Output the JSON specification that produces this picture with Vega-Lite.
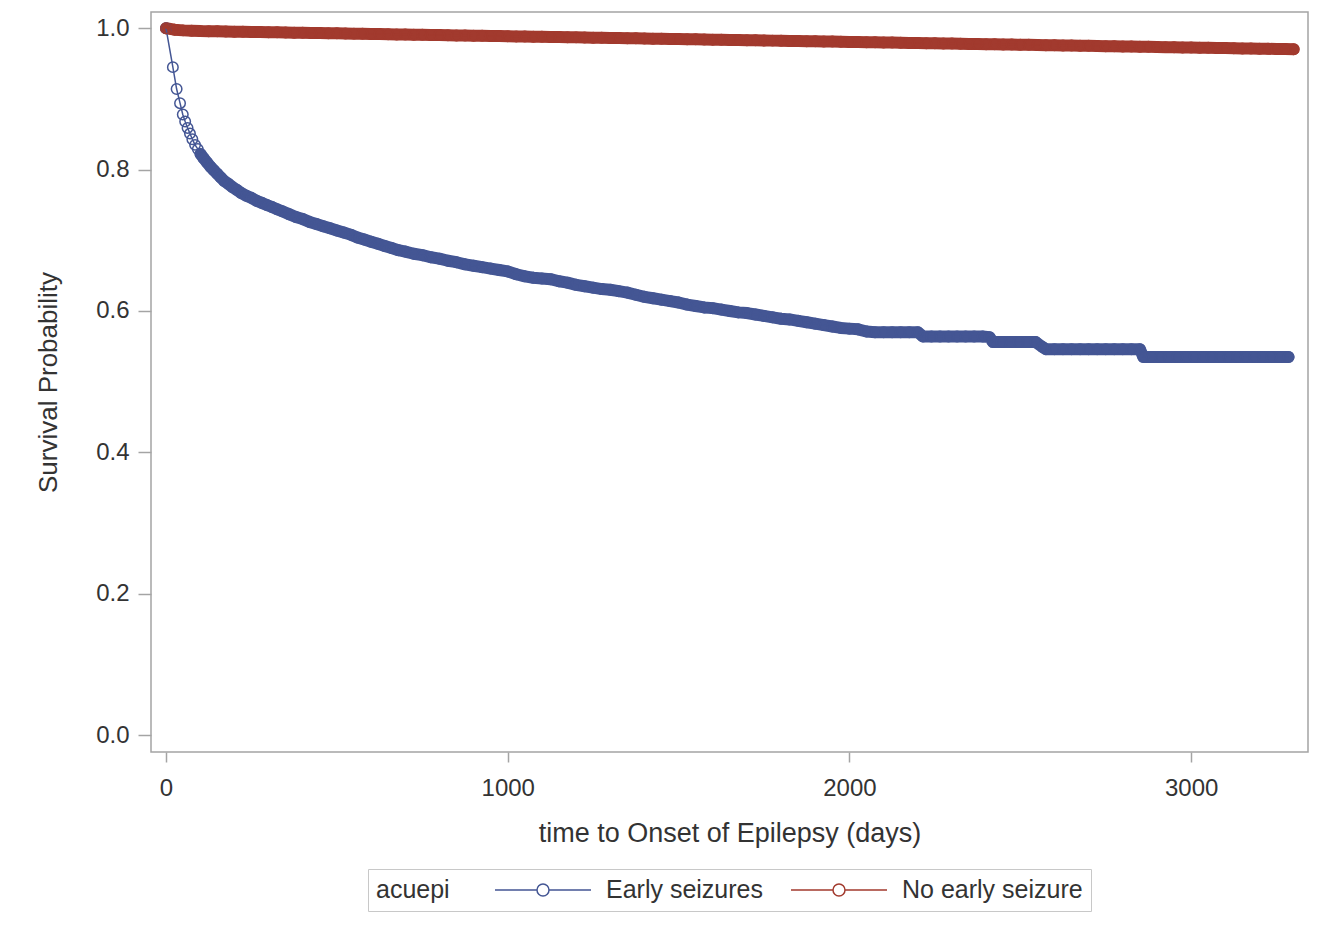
{
"$schema": "https://vega.github.io/schema/vega-lite/v6.json",
"width": 1157,
"height": 740,
"autosize": "none",
"padding": {"left": 151, "top": 12, "right": 21, "bottom": 180},
"background": "white",
"config": {
  "font": "Liberation Sans",
  "view": {"stroke": "#a4a4a4", "strokeWidth": 1.5},
  "axis": {"grid": false, "domain": false, "tickColor": "#a4a4a4", "tickWidth": 1.5, "labelFontSize": 24, "labelColor": "#333333", "titleFontSize": 26, "titleFontWeight": "normal", "titleColor": "#333333"}
},
"data": {"values": [
{"time":0,"surv":1.000,"acuepi":"Early seizures"},
{"time":20,"surv":0.945,"acuepi":"Early seizures"},
{"time":31,"surv":0.914,"acuepi":"Early seizures"},
{"time":41,"surv":0.894,"acuepi":"Early seizures"},
{"time":49,"surv":0.878,"acuepi":"Early seizures"},
{"time":56,"surv":0.868,"acuepi":"Early seizures"},
{"time":63,"surv":0.859,"acuepi":"Early seizures"},
{"time":70,"surv":0.851,"acuepi":"Early seizures"},
{"time":77,"surv":0.843,"acuepi":"Early seizures"},
{"time":85,"surv":0.835,"acuepi":"Early seizures"},
{"time":93,"surv":0.829,"acuepi":"Early seizures"},
{"time":101,"surv":0.822,"acuepi":"Early seizures"},
{"time":110,"surv":0.816,"acuepi":"Early seizures"},
{"time":120,"surv":0.810,"acuepi":"Early seizures"},
{"time":130,"surv":0.804,"acuepi":"Early seizures"},
{"time":140,"surv":0.799,"acuepi":"Early seizures"},
{"time":150,"surv":0.794,"acuepi":"Early seizures"},
{"time":160,"surv":0.789,"acuepi":"Early seizures"},
{"time":170,"surv":0.784,"acuepi":"Early seizures"},
{"time":182,"surv":0.780,"acuepi":"Early seizures"},
{"time":195,"surv":0.775,"acuepi":"Early seizures"},
{"time":208,"surv":0.771,"acuepi":"Early seizures"},
{"time":220,"surv":0.767,"acuepi":"Early seizures"},
{"time":235,"surv":0.763,"acuepi":"Early seizures"},
{"time":250,"surv":0.760,"acuepi":"Early seizures"},
{"time":265,"surv":0.756,"acuepi":"Early seizures"},
{"time":280,"surv":0.753,"acuepi":"Early seizures"},
{"time":295,"surv":0.750,"acuepi":"Early seizures"},
{"time":310,"surv":0.747,"acuepi":"Early seizures"},
{"time":325,"surv":0.744,"acuepi":"Early seizures"},
{"time":340,"surv":0.741,"acuepi":"Early seizures"},
{"time":360,"surv":0.737,"acuepi":"Early seizures"},
{"time":380,"surv":0.733,"acuepi":"Early seizures"},
{"time":400,"surv":0.730,"acuepi":"Early seizures"},
{"time":420,"surv":0.726,"acuepi":"Early seizures"},
{"time":440,"surv":0.723,"acuepi":"Early seizures"},
{"time":460,"surv":0.720,"acuepi":"Early seizures"},
{"time":480,"surv":0.717,"acuepi":"Early seizures"},
{"time":500,"surv":0.714,"acuepi":"Early seizures"},
{"time":520,"surv":0.711,"acuepi":"Early seizures"},
{"time":540,"surv":0.708,"acuepi":"Early seizures"},
{"time":560,"surv":0.704,"acuepi":"Early seizures"},
{"time":580,"surv":0.701,"acuepi":"Early seizures"},
{"time":600,"surv":0.698,"acuepi":"Early seizures"},
{"time":620,"surv":0.695,"acuepi":"Early seizures"},
{"time":640,"surv":0.692,"acuepi":"Early seizures"},
{"time":660,"surv":0.689,"acuepi":"Early seizures"},
{"time":680,"surv":0.686,"acuepi":"Early seizures"},
{"time":700,"surv":0.684,"acuepi":"Early seizures"},
{"time":725,"surv":0.681,"acuepi":"Early seizures"},
{"time":750,"surv":0.679,"acuepi":"Early seizures"},
{"time":775,"surv":0.676,"acuepi":"Early seizures"},
{"time":800,"surv":0.674,"acuepi":"Early seizures"},
{"time":825,"surv":0.671,"acuepi":"Early seizures"},
{"time":850,"surv":0.669,"acuepi":"Early seizures"},
{"time":875,"surv":0.666,"acuepi":"Early seizures"},
{"time":900,"surv":0.664,"acuepi":"Early seizures"},
{"time":925,"surv":0.662,"acuepi":"Early seizures"},
{"time":950,"surv":0.660,"acuepi":"Early seizures"},
{"time":975,"surv":0.658,"acuepi":"Early seizures"},
{"time":1000,"surv":0.656,"acuepi":"Early seizures"},
{"time":1025,"surv":0.652,"acuepi":"Early seizures"},
{"time":1050,"surv":0.649,"acuepi":"Early seizures"},
{"time":1075,"surv":0.647,"acuepi":"Early seizures"},
{"time":1100,"surv":0.646,"acuepi":"Early seizures"},
{"time":1125,"surv":0.645,"acuepi":"Early seizures"},
{"time":1150,"surv":0.642,"acuepi":"Early seizures"},
{"time":1175,"surv":0.640,"acuepi":"Early seizures"},
{"time":1200,"surv":0.637,"acuepi":"Early seizures"},
{"time":1225,"surv":0.635,"acuepi":"Early seizures"},
{"time":1250,"surv":0.633,"acuepi":"Early seizures"},
{"time":1275,"surv":0.631,"acuepi":"Early seizures"},
{"time":1300,"surv":0.630,"acuepi":"Early seizures"},
{"time":1325,"surv":0.628,"acuepi":"Early seizures"},
{"time":1350,"surv":0.626,"acuepi":"Early seizures"},
{"time":1375,"surv":0.623,"acuepi":"Early seizures"},
{"time":1400,"surv":0.620,"acuepi":"Early seizures"},
{"time":1425,"surv":0.618,"acuepi":"Early seizures"},
{"time":1450,"surv":0.616,"acuepi":"Early seizures"},
{"time":1475,"surv":0.614,"acuepi":"Early seizures"},
{"time":1500,"surv":0.612,"acuepi":"Early seizures"},
{"time":1525,"surv":0.609,"acuepi":"Early seizures"},
{"time":1550,"surv":0.607,"acuepi":"Early seizures"},
{"time":1575,"surv":0.605,"acuepi":"Early seizures"},
{"time":1600,"surv":0.604,"acuepi":"Early seizures"},
{"time":1625,"surv":0.602,"acuepi":"Early seizures"},
{"time":1650,"surv":0.600,"acuepi":"Early seizures"},
{"time":1675,"surv":0.598,"acuepi":"Early seizures"},
{"time":1700,"surv":0.597,"acuepi":"Early seizures"},
{"time":1725,"surv":0.595,"acuepi":"Early seizures"},
{"time":1750,"surv":0.593,"acuepi":"Early seizures"},
{"time":1775,"surv":0.591,"acuepi":"Early seizures"},
{"time":1800,"surv":0.589,"acuepi":"Early seizures"},
{"time":1825,"surv":0.588,"acuepi":"Early seizures"},
{"time":1850,"surv":0.586,"acuepi":"Early seizures"},
{"time":1875,"surv":0.584,"acuepi":"Early seizures"},
{"time":1900,"surv":0.582,"acuepi":"Early seizures"},
{"time":1925,"surv":0.580,"acuepi":"Early seizures"},
{"time":1950,"surv":0.578,"acuepi":"Early seizures"},
{"time":1975,"surv":0.576,"acuepi":"Early seizures"},
{"time":2000,"surv":0.575,"acuepi":"Early seizures"},
{"time":2025,"surv":0.574,"acuepi":"Early seizures"},
{"time":2050,"surv":0.571,"acuepi":"Early seizures"},
{"time":2075,"surv":0.570,"acuepi":"Early seizures"},
{"time":2100,"surv":0.570,"acuepi":"Early seizures"},
{"time":2125,"surv":0.570,"acuepi":"Early seizures"},
{"time":2150,"surv":0.570,"acuepi":"Early seizures"},
{"time":2175,"surv":0.570,"acuepi":"Early seizures"},
{"time":2200,"surv":0.570,"acuepi":"Early seizures"},
{"time":2215,"surv":0.564,"acuepi":"Early seizures"},
{"time":2240,"surv":0.564,"acuepi":"Early seizures"},
{"time":2265,"surv":0.564,"acuepi":"Early seizures"},
{"time":2290,"surv":0.564,"acuepi":"Early seizures"},
{"time":2315,"surv":0.564,"acuepi":"Early seizures"},
{"time":2340,"surv":0.564,"acuepi":"Early seizures"},
{"time":2365,"surv":0.564,"acuepi":"Early seizures"},
{"time":2390,"surv":0.564,"acuepi":"Early seizures"},
{"time":2410,"surv":0.563,"acuepi":"Early seizures"},
{"time":2420,"surv":0.556,"acuepi":"Early seizures"},
{"time":2445,"surv":0.556,"acuepi":"Early seizures"},
{"time":2470,"surv":0.556,"acuepi":"Early seizures"},
{"time":2495,"surv":0.556,"acuepi":"Early seizures"},
{"time":2520,"surv":0.556,"acuepi":"Early seizures"},
{"time":2545,"surv":0.556,"acuepi":"Early seizures"},
{"time":2565,"surv":0.549,"acuepi":"Early seizures"},
{"time":2575,"surv":0.546,"acuepi":"Early seizures"},
{"time":2600,"surv":0.546,"acuepi":"Early seizures"},
{"time":2625,"surv":0.546,"acuepi":"Early seizures"},
{"time":2650,"surv":0.546,"acuepi":"Early seizures"},
{"time":2675,"surv":0.546,"acuepi":"Early seizures"},
{"time":2700,"surv":0.546,"acuepi":"Early seizures"},
{"time":2725,"surv":0.546,"acuepi":"Early seizures"},
{"time":2750,"surv":0.546,"acuepi":"Early seizures"},
{"time":2775,"surv":0.546,"acuepi":"Early seizures"},
{"time":2800,"surv":0.546,"acuepi":"Early seizures"},
{"time":2825,"surv":0.546,"acuepi":"Early seizures"},
{"time":2850,"surv":0.546,"acuepi":"Early seizures"},
{"time":2860,"surv":0.535,"acuepi":"Early seizures"},
{"time":2885,"surv":0.535,"acuepi":"Early seizures"},
{"time":2910,"surv":0.535,"acuepi":"Early seizures"},
{"time":2935,"surv":0.535,"acuepi":"Early seizures"},
{"time":2960,"surv":0.535,"acuepi":"Early seizures"},
{"time":2985,"surv":0.535,"acuepi":"Early seizures"},
{"time":3010,"surv":0.535,"acuepi":"Early seizures"},
{"time":3035,"surv":0.535,"acuepi":"Early seizures"},
{"time":3060,"surv":0.535,"acuepi":"Early seizures"},
{"time":3085,"surv":0.535,"acuepi":"Early seizures"},
{"time":3110,"surv":0.535,"acuepi":"Early seizures"},
{"time":3135,"surv":0.535,"acuepi":"Early seizures"},
{"time":3160,"surv":0.535,"acuepi":"Early seizures"},
{"time":3185,"surv":0.535,"acuepi":"Early seizures"},
{"time":3210,"surv":0.535,"acuepi":"Early seizures"},
{"time":3235,"surv":0.535,"acuepi":"Early seizures"},
{"time":3260,"surv":0.535,"acuepi":"Early seizures"},
{"time":3285,"surv":0.535,"acuepi":"Early seizures"},
{"time":0,"surv":1.0000,"acuepi":"No early seizure"},
{"time":25,"surv":0.9980,"acuepi":"No early seizure"},
{"time":50,"surv":0.9970,"acuepi":"No early seizure"},
{"time":75,"surv":0.9966,"acuepi":"No early seizure"},
{"time":100,"surv":0.9960,"acuepi":"No early seizure"},
{"time":125,"surv":0.9958,"acuepi":"No early seizure"},
{"time":150,"surv":0.9956,"acuepi":"No early seizure"},
{"time":175,"surv":0.9954,"acuepi":"No early seizure"},
{"time":200,"surv":0.9952,"acuepi":"No early seizure"},
{"time":225,"surv":0.9950,"acuepi":"No early seizure"},
{"time":250,"surv":0.9948,"acuepi":"No early seizure"},
{"time":275,"surv":0.9946,"acuepi":"No early seizure"},
{"time":300,"surv":0.9944,"acuepi":"No early seizure"},
{"time":325,"surv":0.9942,"acuepi":"No early seizure"},
{"time":350,"surv":0.9940,"acuepi":"No early seizure"},
{"time":375,"surv":0.9938,"acuepi":"No early seizure"},
{"time":400,"surv":0.9936,"acuepi":"No early seizure"},
{"time":425,"surv":0.9934,"acuepi":"No early seizure"},
{"time":450,"surv":0.9932,"acuepi":"No early seizure"},
{"time":475,"surv":0.9930,"acuepi":"No early seizure"},
{"time":500,"surv":0.9928,"acuepi":"No early seizure"},
{"time":525,"surv":0.9926,"acuepi":"No early seizure"},
{"time":550,"surv":0.9924,"acuepi":"No early seizure"},
{"time":575,"surv":0.9922,"acuepi":"No early seizure"},
{"time":600,"surv":0.9919,"acuepi":"No early seizure"},
{"time":625,"surv":0.9917,"acuepi":"No early seizure"},
{"time":650,"surv":0.9915,"acuepi":"No early seizure"},
{"time":675,"surv":0.9913,"acuepi":"No early seizure"},
{"time":700,"surv":0.9911,"acuepi":"No early seizure"},
{"time":725,"surv":0.9909,"acuepi":"No early seizure"},
{"time":750,"surv":0.9907,"acuepi":"No early seizure"},
{"time":775,"surv":0.9905,"acuepi":"No early seizure"},
{"time":800,"surv":0.9903,"acuepi":"No early seizure"},
{"time":825,"surv":0.9901,"acuepi":"No early seizure"},
{"time":850,"surv":0.9899,"acuepi":"No early seizure"},
{"time":875,"surv":0.9897,"acuepi":"No early seizure"},
{"time":900,"surv":0.9895,"acuepi":"No early seizure"},
{"time":925,"surv":0.9893,"acuepi":"No early seizure"},
{"time":950,"surv":0.9891,"acuepi":"No early seizure"},
{"time":975,"surv":0.9889,"acuepi":"No early seizure"},
{"time":1000,"surv":0.9887,"acuepi":"No early seizure"},
{"time":1025,"surv":0.9885,"acuepi":"No early seizure"},
{"time":1050,"surv":0.9883,"acuepi":"No early seizure"},
{"time":1075,"surv":0.9881,"acuepi":"No early seizure"},
{"time":1100,"surv":0.9879,"acuepi":"No early seizure"},
{"time":1125,"surv":0.9877,"acuepi":"No early seizure"},
{"time":1150,"surv":0.9875,"acuepi":"No early seizure"},
{"time":1175,"surv":0.9873,"acuepi":"No early seizure"},
{"time":1200,"surv":0.9871,"acuepi":"No early seizure"},
{"time":1225,"surv":0.9869,"acuepi":"No early seizure"},
{"time":1250,"surv":0.9867,"acuepi":"No early seizure"},
{"time":1275,"surv":0.9865,"acuepi":"No early seizure"},
{"time":1300,"surv":0.9863,"acuepi":"No early seizure"},
{"time":1325,"surv":0.9861,"acuepi":"No early seizure"},
{"time":1350,"surv":0.9859,"acuepi":"No early seizure"},
{"time":1375,"surv":0.9857,"acuepi":"No early seizure"},
{"time":1400,"surv":0.9855,"acuepi":"No early seizure"},
{"time":1425,"surv":0.9853,"acuepi":"No early seizure"},
{"time":1450,"surv":0.9851,"acuepi":"No early seizure"},
{"time":1475,"surv":0.9849,"acuepi":"No early seizure"},
{"time":1500,"surv":0.9847,"acuepi":"No early seizure"},
{"time":1525,"surv":0.9845,"acuepi":"No early seizure"},
{"time":1550,"surv":0.9843,"acuepi":"No early seizure"},
{"time":1575,"surv":0.9841,"acuepi":"No early seizure"},
{"time":1600,"surv":0.9839,"acuepi":"No early seizure"},
{"time":1625,"surv":0.9837,"acuepi":"No early seizure"},
{"time":1650,"surv":0.9835,"acuepi":"No early seizure"},
{"time":1675,"surv":0.9833,"acuepi":"No early seizure"},
{"time":1700,"surv":0.9831,"acuepi":"No early seizure"},
{"time":1725,"surv":0.9829,"acuepi":"No early seizure"},
{"time":1750,"surv":0.9827,"acuepi":"No early seizure"},
{"time":1775,"surv":0.9825,"acuepi":"No early seizure"},
{"time":1800,"surv":0.9823,"acuepi":"No early seizure"},
{"time":1825,"surv":0.9821,"acuepi":"No early seizure"},
{"time":1850,"surv":0.9819,"acuepi":"No early seizure"},
{"time":1875,"surv":0.9817,"acuepi":"No early seizure"},
{"time":1900,"surv":0.9815,"acuepi":"No early seizure"},
{"time":1925,"surv":0.9813,"acuepi":"No early seizure"},
{"time":1950,"surv":0.9811,"acuepi":"No early seizure"},
{"time":1975,"surv":0.9809,"acuepi":"No early seizure"},
{"time":2000,"surv":0.9807,"acuepi":"No early seizure"},
{"time":2025,"surv":0.9805,"acuepi":"No early seizure"},
{"time":2050,"surv":0.9803,"acuepi":"No early seizure"},
{"time":2075,"surv":0.9801,"acuepi":"No early seizure"},
{"time":2100,"surv":0.9799,"acuepi":"No early seizure"},
{"time":2125,"surv":0.9797,"acuepi":"No early seizure"},
{"time":2150,"surv":0.9795,"acuepi":"No early seizure"},
{"time":2175,"surv":0.9793,"acuepi":"No early seizure"},
{"time":2200,"surv":0.9791,"acuepi":"No early seizure"},
{"time":2225,"surv":0.9789,"acuepi":"No early seizure"},
{"time":2250,"surv":0.9787,"acuepi":"No early seizure"},
{"time":2275,"surv":0.9785,"acuepi":"No early seizure"},
{"time":2300,"surv":0.9783,"acuepi":"No early seizure"},
{"time":2325,"surv":0.9781,"acuepi":"No early seizure"},
{"time":2350,"surv":0.9779,"acuepi":"No early seizure"},
{"time":2375,"surv":0.9777,"acuepi":"No early seizure"},
{"time":2400,"surv":0.9775,"acuepi":"No early seizure"},
{"time":2425,"surv":0.9773,"acuepi":"No early seizure"},
{"time":2450,"surv":0.9771,"acuepi":"No early seizure"},
{"time":2475,"surv":0.9769,"acuepi":"No early seizure"},
{"time":2500,"surv":0.9767,"acuepi":"No early seizure"},
{"time":2525,"surv":0.9765,"acuepi":"No early seizure"},
{"time":2550,"surv":0.9763,"acuepi":"No early seizure"},
{"time":2575,"surv":0.9761,"acuepi":"No early seizure"},
{"time":2600,"surv":0.9759,"acuepi":"No early seizure"},
{"time":2625,"surv":0.9757,"acuepi":"No early seizure"},
{"time":2650,"surv":0.9755,"acuepi":"No early seizure"},
{"time":2675,"surv":0.9753,"acuepi":"No early seizure"},
{"time":2700,"surv":0.9751,"acuepi":"No early seizure"},
{"time":2725,"surv":0.9749,"acuepi":"No early seizure"},
{"time":2750,"surv":0.9747,"acuepi":"No early seizure"},
{"time":2775,"surv":0.9745,"acuepi":"No early seizure"},
{"time":2800,"surv":0.9743,"acuepi":"No early seizure"},
{"time":2825,"surv":0.9741,"acuepi":"No early seizure"},
{"time":2850,"surv":0.9739,"acuepi":"No early seizure"},
{"time":2875,"surv":0.9737,"acuepi":"No early seizure"},
{"time":2900,"surv":0.9735,"acuepi":"No early seizure"},
{"time":2925,"surv":0.9733,"acuepi":"No early seizure"},
{"time":2950,"surv":0.9731,"acuepi":"No early seizure"},
{"time":2975,"surv":0.9729,"acuepi":"No early seizure"},
{"time":3000,"surv":0.9727,"acuepi":"No early seizure"},
{"time":3025,"surv":0.9725,"acuepi":"No early seizure"},
{"time":3050,"surv":0.9723,"acuepi":"No early seizure"},
{"time":3075,"surv":0.9721,"acuepi":"No early seizure"},
{"time":3100,"surv":0.9719,"acuepi":"No early seizure"},
{"time":3125,"surv":0.9717,"acuepi":"No early seizure"},
{"time":3150,"surv":0.9715,"acuepi":"No early seizure"},
{"time":3175,"surv":0.9713,"acuepi":"No early seizure"},
{"time":3200,"surv":0.9711,"acuepi":"No early seizure"},
{"time":3225,"surv":0.9709,"acuepi":"No early seizure"},
{"time":3250,"surv":0.9707,"acuepi":"No early seizure"},
{"time":3275,"surv":0.9705,"acuepi":"No early seizure"},
{"time":3300,"surv":0.9703,"acuepi":"No early seizure"}
]},
"encoding": {
  "x": {"field": "time", "type": "quantitative", "scale": {"domain": [-44, 3342], "nice": false, "zero": false},
        "axis": {"values": [0, 1000, 2000, 3000], "format": "d", "title": "time to Onset of Epilepsy (days)", "titleFontSize": 27, "tickSize": 10, "labelPadding": 14, "titlePadding": 20}},
  "y": {"field": "surv", "type": "quantitative", "scale": {"domain": [-0.024, 1.023], "nice": false, "zero": false},
        "axis": {"values": [0, 0.2, 0.4, 0.6, 0.8, 1.0], "format": ".1f", "title": "Survival Probability", "tickSize": 13, "labelPadding": 9, "titlePadding": 34}},
  "color": {"field": "acuepi", "type": "nominal",
    "scale": {"domain": ["Early seizures", "No early seizure"], "range": ["#445694", "#A23A2E"]},
    "legend": {"orient": "none", "legendX": 217, "legendY": 857, "direction": "horizontal", "title": "acuepi",
      "titleOrient": "left", "titleFontSize": 25, "titleFontWeight": "normal", "titleColor": "#333333", "titlePadding": 80, "titleBaseline": "middle",
      "labelFontSize": 25, "labelColor": "#333333", "labelOffset": 50, "labelLimit": 400, "columnPadding": 25,
      "symbolType": "M-4,0L-0.5,0M0.5,0L4,0M-0.5,0A0.5,0.5,0,1,0,0.5,0A0.5,0.5,0,1,0,-0.5,0",
      "symbolSize": 576, "symbolStrokeWidth": 1.5, "symbolFillColor": "transparent",
      "strokeColor": "#c8c8c8", "padding": 8, "fillColor": "white"}}
},
"layer": [
  {"transform": [{"filter": "datum.time >= 100 || datum.acuepi == 'No early seizure'"}],
   "mark": {"type": "line", "strokeWidth": 12, "strokeCap": "round", "strokeJoin": "round"}},
  {"mark": {"type": "line", "strokeWidth": 1.5}},
  {"mark": {"type": "point", "shape": "circle", "filled": false, "size": 110, "strokeWidth": 1.5, "opacity": 1}}
]
}
